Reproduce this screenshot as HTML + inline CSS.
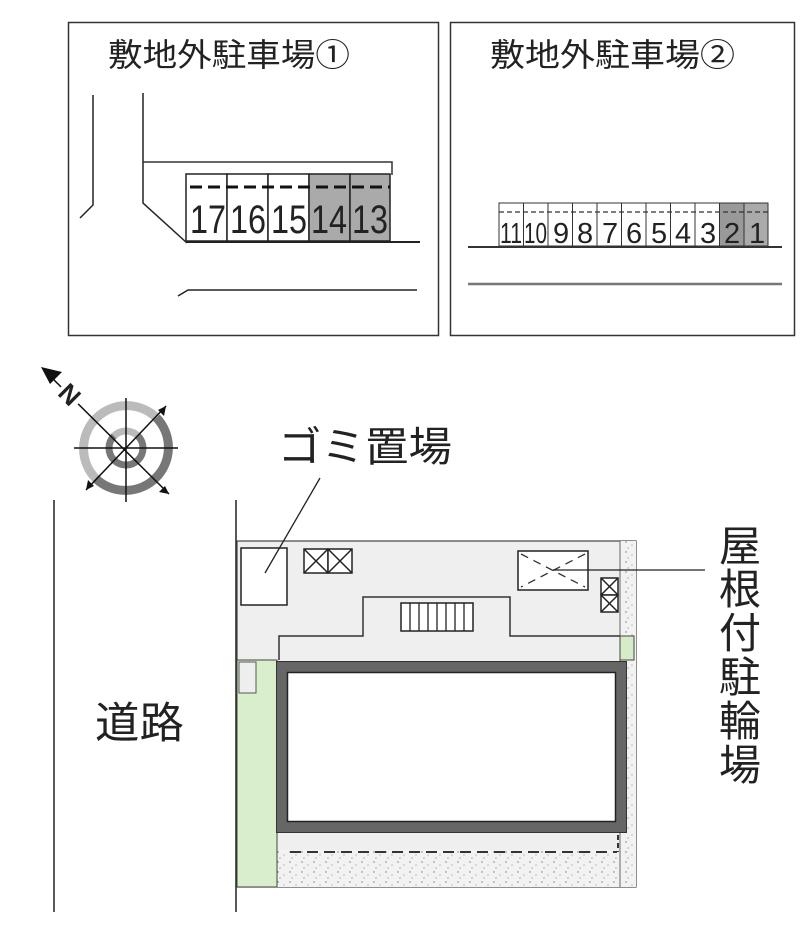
<!DOCTYPE html>
<html><head><meta charset="utf-8"><style>
html,body{margin:0;padding:0;background:#fff;}
svg{display:block;}
text{font-family:"Liberation Sans","Noto Sans CJK JP",sans-serif;fill:#222;}
</style></head><body>
<svg width="800" height="941" viewBox="0 0 800 941" xmlns="http://www.w3.org/2000/svg">
<defs>
<pattern id="dots" width="12" height="10" patternUnits="userSpaceOnUse">
<rect width="12" height="10" fill="#f2f2f2"/>
<circle cx="2" cy="2" r="0.7" fill="#777"/><circle cx="8" cy="5" r="0.6" fill="#999"/><circle cx="4" cy="8" r="0.6" fill="#888"/>
</pattern>
</defs>
<!-- box 1 -->
<rect x="68.5" y="22.5" width="370" height="313" fill="none" stroke="#333" stroke-width="1.5"/>
<text x="108" y="66" font-size="32" textLength="242" lengthAdjust="spacingAndGlyphs">敷地外駐車場①</text>
<polyline points="93,95 93,205 80,218" fill="none" stroke="#222" stroke-width="1.5"/>
<polyline points="143,93 143,203 187,243" fill="none" stroke="#222" stroke-width="1.5"/>
<polyline points="143,162 392,162 392,175" fill="none" stroke="#333" stroke-width="1.5"/>
<g stroke="#222" stroke-width="1.5">
<rect x="186" y="174" width="41" height="67" fill="#fff"/>
<rect x="227" y="174" width="41" height="67" fill="#fff"/>
<rect x="268" y="174" width="41" height="67" fill="#fff"/>
<rect x="309" y="174" width="41" height="67" fill="#aaa"/>
<rect x="350" y="174" width="40" height="67" fill="#aaa"/>
</g>
<line x1="190" y1="187" x2="390" y2="187" stroke="#111" stroke-width="3" stroke-dasharray="12,6"/>
<line x1="187" y1="242" x2="420" y2="242" stroke="#222" stroke-width="2"/>
<g font-size="40">
<text x="190" y="233" textLength="36" lengthAdjust="spacingAndGlyphs">17</text>
<text x="230" y="233" textLength="36" lengthAdjust="spacingAndGlyphs">16</text>
<text x="271" y="233" textLength="36" lengthAdjust="spacingAndGlyphs">15</text>
<text x="311" y="233" textLength="36" lengthAdjust="spacingAndGlyphs">14</text>
<text x="352" y="233" textLength="36" lengthAdjust="spacingAndGlyphs">13</text>
</g>
<polyline points="178,296 188,290 417,290" fill="none" stroke="#222" stroke-width="1.5"/>
<!-- box 2 -->
<rect x="450.5" y="22.5" width="344" height="313" fill="none" stroke="#333" stroke-width="1.5"/>
<text x="490" y="66" font-size="32" textLength="245" lengthAdjust="spacingAndGlyphs">敷地外駐車場②</text>
<g stroke="#333" stroke-width="1">
<rect x="499" y="203" width="24.5" height="43" fill="#fff"/>
<rect x="523.5" y="203" width="24.5" height="43" fill="#fff"/>
<rect x="548" y="203" width="24.5" height="43" fill="#fff"/>
<rect x="572.5" y="203" width="24.5" height="43" fill="#fff"/>
<rect x="597" y="203" width="24.5" height="43" fill="#fff"/>
<rect x="621.5" y="203" width="24.5" height="43" fill="#fff"/>
<rect x="646" y="203" width="24.5" height="43" fill="#fff"/>
<rect x="670.5" y="203" width="24.5" height="43" fill="#fff"/>
<rect x="695" y="203" width="24.5" height="43" fill="#fff"/>
<rect x="719.5" y="203" width="24.5" height="43" fill="#999"/>
<rect x="744" y="203" width="24" height="43" fill="#aaa"/>
</g>
<line x1="499" y1="212" x2="768" y2="212" stroke="#333" stroke-width="1.2" stroke-dasharray="5,3"/>
<g font-size="29">
<text x="500" y="243" textLength="22" lengthAdjust="spacingAndGlyphs">11</text>
<text x="524" y="243" textLength="23" lengthAdjust="spacingAndGlyphs">10</text>
<text x="553" y="243">9</text><text x="577" y="243">8</text><text x="602" y="243">7</text>
<text x="626" y="243">6</text><text x="651" y="243">5</text><text x="675" y="243">4</text>
<text x="700" y="243">3</text><text x="724" y="243">2</text><text x="749" y="243">1</text>
</g>
<line x1="468" y1="247" x2="782" y2="247" stroke="#333" stroke-width="2"/>
<line x1="468" y1="284" x2="782" y2="284" stroke="#777" stroke-width="2.5"/>
<!-- compass -->
<g>
<path d="M 95.6 478.4 A 43 43 0 0 1 156.4 417.6" fill="none" stroke="#bbb" stroke-width="9"/>
<path d="M 156.4 417.6 A 43 43 0 0 1 95.6 478.4" fill="none" stroke="#777" stroke-width="9"/>
<path d="M 114 436 A 17 17 0 0 1 138 436" fill="none" stroke="#bbb" stroke-width="7"/>
<path d="M 138 436 A 17 17 0 1 1 114 436" fill="none" stroke="#777" stroke-width="7"/>
<g stroke="#111" stroke-width="1.5">
<line x1="74" y1="448" x2="178" y2="448"/>
<line x1="126" y1="398" x2="126" y2="502"/>
<line x1="86" y1="490" x2="166" y2="406"/>
<line x1="48" y1="374" x2="169" y2="494"/>
</g>
<polygon points="86,490 88,480 94,486" fill="#111"/>
<polygon points="166,406 164,416 158,410" fill="#111"/>
<polygon points="169,494 159,492 165,486" fill="#111"/>
<polygon points="41,367 62,372 50,384" fill="#111"/>
<rect x="58" y="384" width="24" height="22" fill="#fff" transform="rotate(45 70 395)"/>
<text x="60" y="404" font-size="26" font-weight="bold" transform="rotate(45 70 395)" fill="#111">N</text>
</g>
<!-- site -->
<line x1="54" y1="500" x2="54" y2="912" stroke="#222" stroke-width="1.5"/>
<line x1="236" y1="500" x2="236" y2="912" stroke="#222" stroke-width="1.5"/>
<rect x="237" y="541" width="399" height="346" fill="#efefef" stroke="#444" stroke-width="1.2"/>
<rect x="277" y="832" width="359" height="55" fill="url(#dots)"/>
<rect x="277" y="832" width="345" height="18" fill="#efefef"/>
<rect x="620" y="541" width="16" height="346" fill="url(#dots)"/>
<line x1="620" y1="541" x2="620" y2="887" stroke="#666" stroke-width="1"/>
<rect x="620" y="636" width="14" height="24" fill="#d6ecc8" stroke="#444" stroke-width="1"/>
<rect x="237" y="660" width="40" height="227" fill="#d9efcc" stroke="#444" stroke-width="1"/>
<rect x="239" y="662" width="17" height="31" fill="#eee" stroke="#555" stroke-width="1"/>
<line x1="290" y1="852" x2="617" y2="852" stroke="#333" stroke-width="2" stroke-dasharray="11,6"/>
<line x1="618" y1="835" x2="618" y2="852" stroke="#333" stroke-width="2" stroke-dasharray="5,3"/>
<rect x="282" y="667" width="339" height="160" fill="#fff" stroke="#666" stroke-width="11"/>
<rect x="276.5" y="661.5" width="350" height="171" fill="none" stroke="#333" stroke-width="1"/>
<rect x="287.5" y="672.5" width="328" height="149" fill="none" stroke="#222" stroke-width="1.5"/>
<polyline points="279,660 279,636 363,636 363,597 510,597 510,636 620,636" fill="none" stroke="#333" stroke-width="1.5"/>
<rect x="241" y="548" width="46" height="57" fill="#fff" stroke="#222" stroke-width="1.5"/>
<g stroke="#222" stroke-width="1.5" fill="#fff">
<rect x="304" y="549" width="24" height="24"/><rect x="328" y="549" width="24" height="24"/>
<path d="M304 549 L328 573 M328 549 L304 573 M328 549 L352 573 M352 549 L328 573" fill="none"/>
<rect x="601" y="578" width="17" height="17"/><rect x="601" y="595" width="17" height="17"/>
<path d="M601 578 L618 595 M618 578 L601 595 M601 595 L618 612 M618 595 L601 612" fill="none"/>
<rect x="518" y="551" width="70" height="39"/>
<rect x="401" y="603" width="72" height="28"/>
</g>
<g stroke="#222" stroke-width="1.3">
<line x1="410" y1="603" x2="410" y2="631"/><line x1="419" y1="603" x2="419" y2="631"/><line x1="428" y1="603" x2="428" y2="631"/><line x1="437" y1="603" x2="437" y2="631"/><line x1="446" y1="603" x2="446" y2="631"/><line x1="455" y1="603" x2="455" y2="631"/><line x1="464" y1="603" x2="464" y2="631"/>
</g>
<path d="M521 554 L585 587 M585 554 L521 587" stroke="#333" stroke-width="1.3" stroke-dasharray="8,6"/>
<line x1="553" y1="570" x2="705" y2="570" stroke="#222" stroke-width="1.3"/>
<line x1="320" y1="478" x2="265" y2="573" stroke="#222" stroke-width="1.3"/>
<text x="278" y="461" font-size="41" textLength="174" lengthAdjust="spacingAndGlyphs">ゴミ置場</text>
<text x="95" y="738" font-size="43" textLength="89" lengthAdjust="spacingAndGlyphs">道路</text>
<g font-size="42">
<text x="719" y="561">屋</text><text x="719" y="604">根</text><text x="719" y="648">付</text>
<text x="719" y="692">駐</text><text x="719" y="736">輪</text><text x="719" y="780">場</text>
</g>
</svg>
</body></html>
